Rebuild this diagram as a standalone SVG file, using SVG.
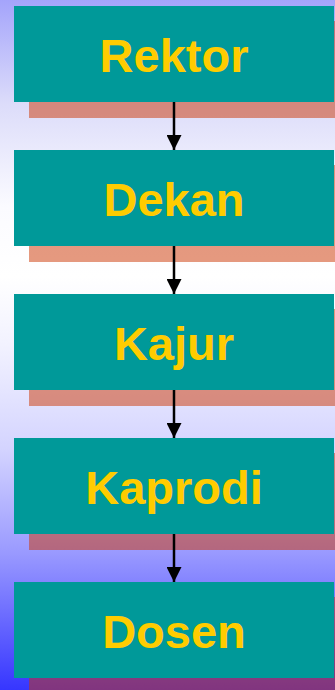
<svg xmlns="http://www.w3.org/2000/svg" width="335" height="690" viewBox="0 0 335 690">
<defs>
<linearGradient id="bg" x1="0" y1="0" x2="0" y2="1">
<stop offset="0" stop-color="#a4a4fb"/>
<stop offset="0.15" stop-color="#dcdcfa"/>
<stop offset="0.3" stop-color="#fbfbff"/>
<stop offset="0.4" stop-color="#ffffff"/>
<stop offset="0.5" stop-color="#f2f2ff"/>
<stop offset="0.65" stop-color="#d4d4ff"/>
<stop offset="0.8" stop-color="#9a9aff"/>
<stop offset="1" stop-color="#3636ff"/>
</linearGradient>
<marker id="ah" markerWidth="15" markerHeight="15" refX="15" refY="7.5" orient="auto" markerUnits="userSpaceOnUse">
<path d="M0,0 L15,7.5 L0,15 Z" fill="#000"/>
</marker>
<style>
.shadow{fill:#CC3300;fill-opacity:0.5}
.box{fill:#009999}
.lbl{font-family:"Liberation Sans",Arial,sans-serif;font-weight:bold;font-size:47px;fill:#FFCC00;text-anchor:middle}
.conn{stroke:#000;stroke-width:2.5;fill:none;marker-end:url(#ah)}
</style>
</defs>
<rect x="0" y="0" width="335" height="690" fill="url(#bg)"/>
<g id="rektor">
<rect class="shadow" x="29" y="21" width="320" height="97"/>
<rect class="box" x="14" y="6" width="320" height="96"/>
<text class="lbl" x="174" y="72">Rektor</text>
</g>
<g id="dekan">
<rect class="shadow" x="29" y="165" width="320" height="97"/>
<rect class="box" x="14" y="150" width="320" height="96"/>
<text class="lbl" x="174" y="216">Dekan</text>
</g>
<g id="kajur">
<rect class="shadow" x="29" y="309" width="320" height="97"/>
<rect class="box" x="14" y="294" width="320" height="96"/>
<text class="lbl" x="174" y="360">Kajur</text>
</g>
<g id="kaprodi">
<rect class="shadow" x="29" y="453" width="320" height="97"/>
<rect class="box" x="14" y="438" width="320" height="96"/>
<text class="lbl" x="174" y="504">Kaprodi</text>
</g>
<g id="dosen">
<rect class="shadow" x="29" y="597" width="320" height="97"/>
<rect class="box" x="14" y="582" width="320" height="96"/>
<text class="lbl" x="174" y="648">Dosen</text>
</g>
<g id="connectors">
<line class="conn" x1="174" y1="102" x2="174" y2="150"/>
<line class="conn" x1="174" y1="246" x2="174" y2="294"/>
<line class="conn" x1="174" y1="390" x2="174" y2="438"/>
<line class="conn" x1="174" y1="534" x2="174" y2="582"/>
</g>
</svg>
